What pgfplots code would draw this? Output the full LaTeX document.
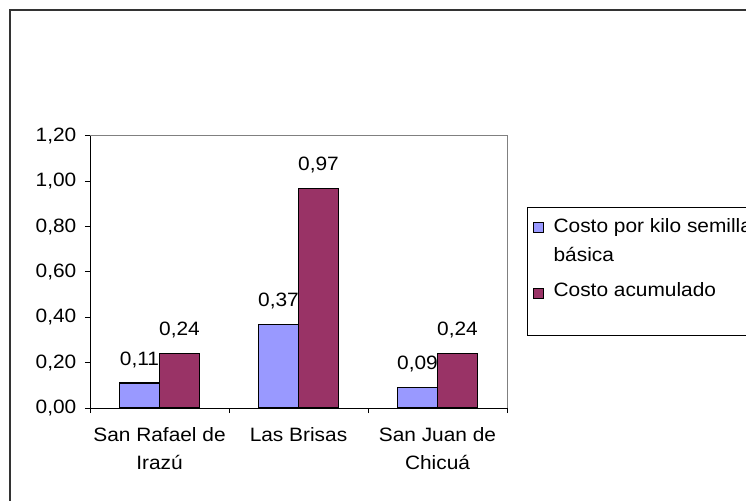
\documentclass[border=0pt]{standalone}
\usepackage{pgfplots}
\pgfplotsset{compat=1.18}
\usepackage{fontspec}
\setmainfont{Liberation Sans}[FakeStretch=1.08]
\definecolor{cblue}{HTML}{9999FF}
\definecolor{cred}{HTML}{993366}
\newcommand{\cf}{\fontsize{14.5}{21}\selectfont}
\begin{document}
\begin{tikzpicture}[font=\cf]
\useasboundingbox (0,0) rectangle (559.5pt,375pt);
\clip (0,0) rectangle (559.5pt,375pt);
\draw[overlay, black!80, line width=1.5pt] (7.5pt,-5pt) -- (7.5pt,367.5pt) -- (570pt,367.5pt);
\begin{axis}[
  at={(67.5pt,69pt)}, anchor=south west,
  scale only axis, width=312.75pt, height=204pt,
  ybar=0pt, bar width=30pt,
  xmin=-0.5, xmax=2.5, ymin=0, ymax=1.2,
  xtick={0,1,2},
  xticklabels={{San Rafael de\\Irazú},{Las Brisas},{San Juan de\\Chicuá}},
  minor xtick={-0.5,0.5,1.5,2.5},
  ytick={0,0.2,0.4,0.6,0.8,1.0,1.2},
  tick align=outside,
  major tick length=3.75pt, minor tick length=3.75pt,
  major x tick style={draw=none},
  tick style={black, line width=0.75pt},
  axis lines*=left,
  axis line style={black, line width=0.75pt},
  /pgf/number format/.cd, fixed, fixed zerofill, precision=2, use comma, assume math mode=true,
  /pgfplots/.cd,
  yticklabel style={font=\cf, anchor=east, xshift=-3pt},
  xticklabel style={font=\cf, align=center, anchor=north, yshift=-7pt},
  nodes near coords,
  nodes near coords style={font=\cf, anchor=base, yshift=13.5pt, inner sep=0pt,
    /pgf/number format/.cd, fixed, fixed zerofill, precision=2, use comma, assume math mode=true},
  after end axis/.code={
    \draw[gray, line width=0.75pt] (rel axis cs:0,1) -- (rel axis cs:1,1) -- (rel axis cs:1,0);
  },
]
\addplot[fill=cblue, draw=black, line width=0.9pt] coordinates {(0,0.11) (1,0.37) (2,0.09)};
\addplot[fill=cred, draw=black, line width=0.9pt] coordinates {(0,0.24) (1,0.97) (2,0.24)};
\end{axis}
% legend
\draw[overlay, black, line width=0.75pt] (395.25pt,123pt) rectangle (600pt,219pt);
\filldraw[fill=cblue, draw=black, line width=0.75pt] (399.75pt,200.5pt) rectangle (407.25pt,208pt);
\filldraw[fill=cred, draw=black, line width=0.75pt] (399.75pt,151pt) rectangle (407.25pt,158.5pt);
\node[overlay, anchor=base west, inner sep=0pt] at (415pt,200.25pt) {Costo por kilo semilla};
\node[anchor=base west, inner sep=0pt] at (415pt,179pt) {básica};
\node[anchor=base west, inner sep=0pt] at (415pt,152.5pt) {Costo acumulado};
\end{tikzpicture}
\end{document}
